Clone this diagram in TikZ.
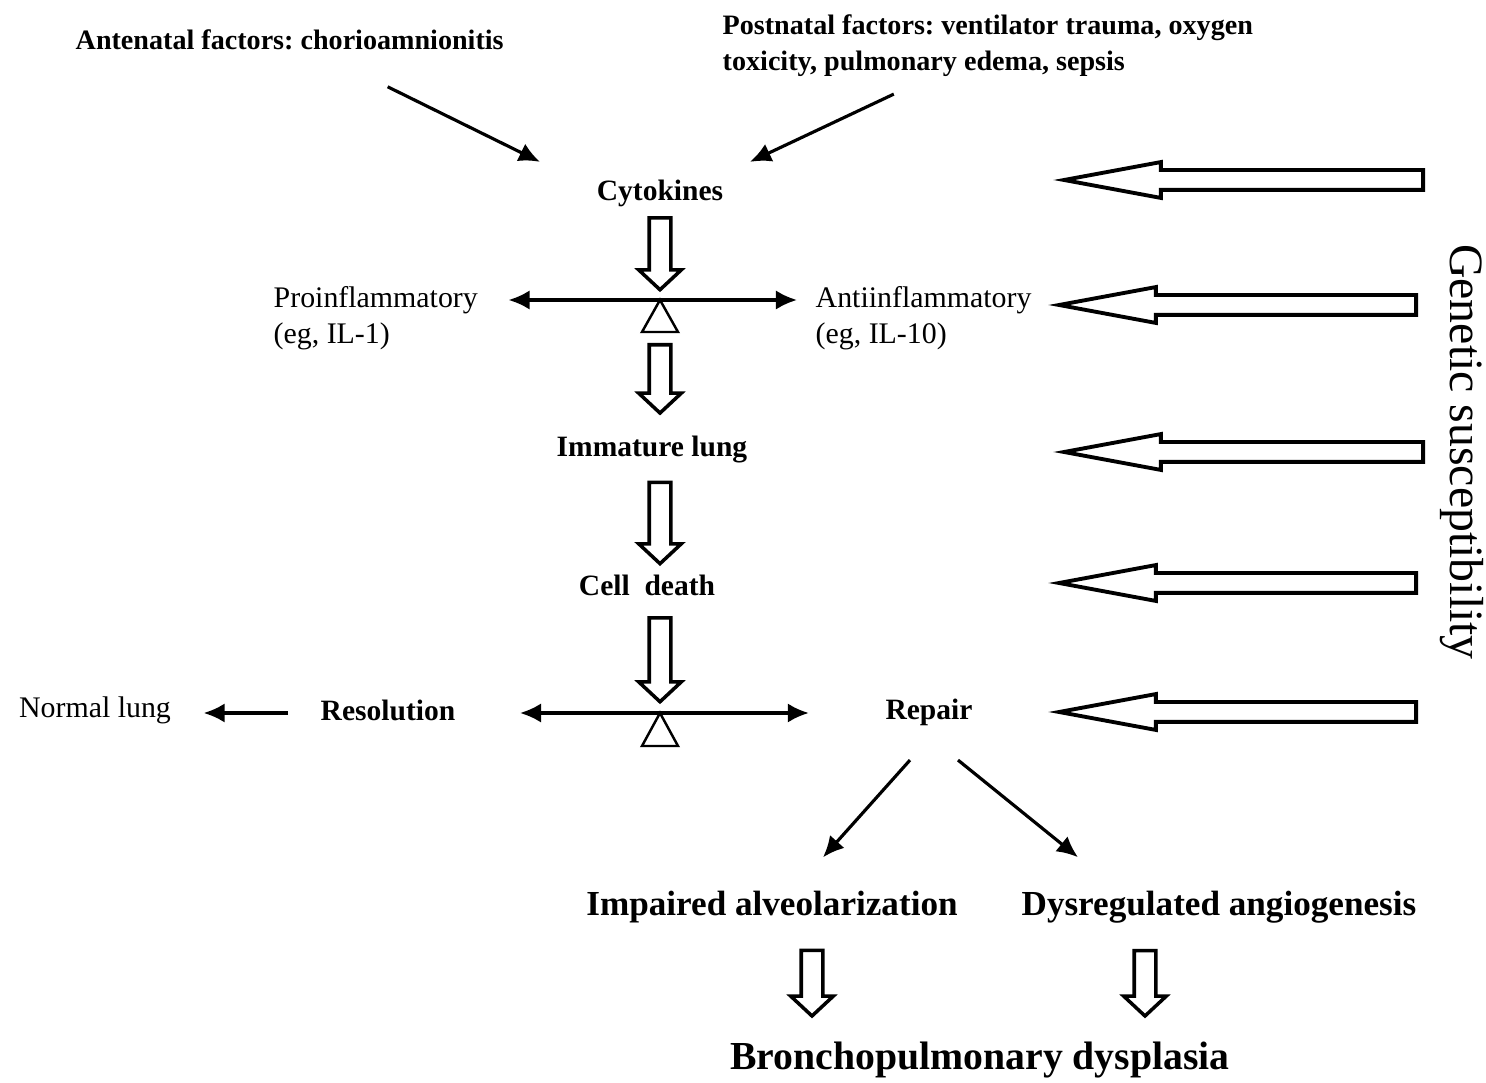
\documentclass[tikz,border=0pt]{standalone}
\usepackage{fontspec}
\setmainfont{Liberation Serif}
\usepackage{tikz}
\usetikzlibrary{
  arrows.meta,
  positioning,
  calc,
  shapes.arrows
}
\frenchspacing

\begin{document}
\begin{tikzpicture}[
  factor/.style={inner sep=0, font=\fontsize{8}{10.2}\selectfont\bfseries, align=left},
  stage/.style={inner sep=0, font=\fontsize{8.4}{10}\selectfont\bfseries},
  side/.style={inner sep=0, font=\fontsize{8.5}{10.2}\selectfont, align=left},
  result/.style={inner sep=0, font=\fontsize{#1}{12}\selectfont\bfseries},
  arrow/.style={-{Latex[length=6pt,width=5.5pt]}, line width=0.9pt},
  twoway/.style={{Latex[length=6pt,width=5.5pt]}-{Latex[length=6pt,width=5.5pt]}, line width=0.9pt},
  pivot/.style={line width=0.7pt, line join=miter},
  fatnode/.style={single arrow, draw, line width=1pt, fill=white, inner sep=0.09cm,
    single arrow head extend=0.105cm, single arrow tip angle=94, minimum width=0},
  genenode/.style={single arrow, draw, line width=1.1pt, fill=white, inner sep=0.08cm,
    single arrow head extend=0.08cm, single arrow tip angle=21, minimum width=0},
  fat/.style={to path={let \p1=($(\tikztotarget)-(\tikztostart)$), \n1={atan2(\y1,\x1)},
    \n2={veclen(\x1,\y1)} in (\tikztostart) node[#1, minimum height=\n2, rotate=\n1, anchor=tail] {} (\tikztotarget)}},
  fat/.default=fatnode
]
\useasboundingbox (0,0) rectangle (14.86,-10.83);

% Causes
\node[factor, anchor=west] (ante) at (0.75,-0.40) {Antenatal factors: chorioamnionitis};
\node[factor, anchor=north west] (post) at (7.22,-0.14) {Postnatal factors: ventilator trauma, oxygen\\toxicity, pulmonary edema, sepsis};

% Central column
\node[stage] (cyto) at (6.60,-1.93) {Cytokines};
\coordinate (f1) at (6.60,-3.00);
\node[side, anchor=north west] (pro) at (2.73,-2.86) {Proinflammatory\\(eg, IL-1)};
\node[side, anchor=north west] (anti) at (8.15,-2.86) {Antiinflammatory\\(eg, IL-10)};
\node[stage] (imm) at (6.52,-4.50) {Immature lung};
\node[stage] (cell) at (6.47,-5.85) {Cell~ death};
\coordinate (f2) at (6.60,-7.13);
\node[stage] (res) at (3.88,-7.10) {Resolution};
\node[side] (normal) at (0.95,-7.10) {Normal lung};
\node[stage] (repair) at (9.29,-7.12) {Repair};

% Outcomes
\node[result=10] (impaired) at (7.72,-9.07) {Impaired alveolarization};
\node[result=10] (dysreg) at (12.19,-9.07) {Dysregulated angiogenesis};
\node[result=11.3] (bpd) at (9.80,-10.60) {Bronchopulmonary dysplasia};

\node[inner sep=0, font=\fontsize{13.6}{16}\selectfont, rotate=-90] (gene) at (14.62,-4.52) {Genetic susceptibility};

% Arrows into cytokines
\draw[arrow] ([xshift=0.98cm,yshift=-0.36cm]ante.south) -- ([xshift=-1.20cm,yshift=0.17cm]cyto.north);
\draw[arrow] ([xshift=-0.94cm,yshift=-0.17cm]post.south) -- ([xshift=0.90cm,yshift=0.17cm]cyto.north);

% Balances
\draw[twoway] ([xshift=0.30cm]pro.east |- f1) -- ([xshift=-0.18cm]anti.west |- f1);
\draw[pivot] (f1) -- ++(-0.18,-0.32) -- ++(0.36,0) -- cycle;
\draw[twoway] ([xshift=0.64cm]res.east |- f2) -- ([xshift=-0.76cm]repair.west |- f2);
\draw[pivot] (f2) -- ++(-0.18,-0.33) -- ++(0.36,0) -- cycle;
\draw[arrow] ([xshift=-0.32cm]res.west |- f2) -- ([xshift=0.32cm]normal.east |- f2);

% Block arrows down the column
\path[fat] ([yshift=-0.09cm]cyto.south) to ([yshift=0.12cm]f1);
\path[fat] ([yshift=-0.43cm]f1) to ([xshift=0.08cm,yshift=0.245cm]imm.north);
\path[fat] ([xshift=0.08cm,yshift=-0.165cm]imm.south) to ([xshift=0.13cm,yshift=0.12cm]cell.north);
\path[fat] ([xshift=0.13cm,yshift=-0.20cm]cell.south) to ([yshift=0.13cm]f2);

% Repair outcomes
\draw[arrow] ([xshift=-0.19cm,yshift=-0.34cm]repair.south) -- ([xshift=0.51cm,yshift=0.33cm]impaired.north);
\draw[arrow] ([xshift=0.29cm,yshift=-0.34cm]repair.south) -- ([xshift=-1.41cm,yshift=0.33cm]dysreg.north);
\path[fat] ([xshift=0.40cm,yshift=-0.25cm]impaired.south) to ([xshift=-1.68cm,yshift=0.27cm]bpd.north);
\path[fat] ([xshift=-0.74cm,yshift=-0.25cm]dysreg.south) to ([xshift=1.65cm,yshift=0.27cm]bpd.north);

% Genetic susceptibility arrows
\foreach \i/\y/\xa/\xb in {1/1.80/14.25/10.66, 2/3.05/14.18/10.61, 3/4.52/14.25/10.66, 4/5.83/14.18/10.61, 5/7.12/14.18/10.61} {
  \coordinate (gt\i) at (\xa,-\y);
  \coordinate (gh\i) at (\xb,-\y);
  \path[fat=genenode] (gt\i) to (gh\i);
}

\end{tikzpicture}
\end{document}
